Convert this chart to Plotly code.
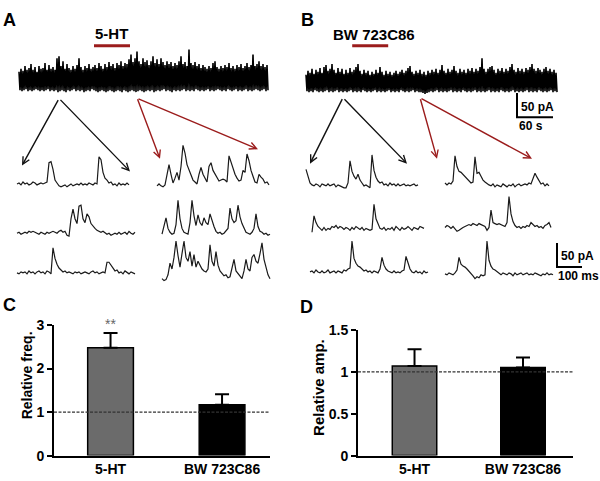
import plotly.graph_objects as go

W, H = 600, 481
FONT = "Liberation Sans, Arial, sans-serif"
RED = "#9b1c1c"

# ---------------- data ----------------
# long recordings: upper / lower envelope (pA) every 2 samples, sampled at DT_LONG s
DT_LONG = 5.0 / 3.0
LONG_A_UP = [38, 44, 40, 50, 42, 46, 54, 42, 48, 38, 50, 44, 46, 56, 42, 52, 44, 48, 42, 66,
             70, 50, 60, 44, 54, 46, 42, 50, 44, 52, 66, 48, 42, 50, 46, 54, 44, 48, 52, 46,
             56, 50, 44, 54, 48, 58, 50, 54, 46, 56, 52, 60, 50, 56, 54, 64, 74, 58, 66, 80,
             60, 54, 66, 58, 62, 52, 60, 70, 56, 64, 54, 66, 58, 52, 60, 54, 58, 50, 56, 52,
             60, 70, 54, 58, 50, 84, 56, 52, 58, 50, 54, 46, 52, 48, 44, 50, 46, 56, 60, 48,
             44, 50, 46, 52, 48, 56, 46, 50, 44, 52, 48, 54, 46, 50, 56, 48, 52, 74, 50, 54,
             60, 50, 54, 48, 52]
LONG_A_DN = [0, -2, 0, 2, -2, 0, -2, 0, 2, 0, -2, 0, -2, 0, 2, -2, 0, -2, 0, -4,
             -2, 0, -2, -4, 0, -2, 0, 2, -2, 0, -2, 0, -4, -2, 0, -2, 2, 0, -2, -4,
             -2, 0, -2, -4, -2, 0, -2, -4, -2, 0, -2, -4, 0, -2, -4, -2, 0, -2, -4, -2,
             0, -2, -4, -2, 0, -2, 0, -4, -2, 0, -2, 0, 2, -2, 0, -2, -4, 0, -2, 0,
             -2, 0, 2, -2, 0, -2, 0, -2, 2, 0, -2, 0, -2, 0, 2, -2, 0, -2, 0, 2,
             0, -2, 0, -2, 2, 0, -2, 0, 2, -2, 0, -2, 0, 2, -2, 0, -2, 0, 2, 0,
             -2, 0, 2, -2, 0]
LONG_B_UP = [34, 42, 38, 46, 36, 44, 40, 48, 38, 50, 54, 42, 46, 56, 44, 38, 48, 40, 46, 36,
             44, 38, 48, 40, 44, 50, 56, 42, 36, 44, 38, 42, 34, 40, 36, 44, 38, 50, 40, 34,
             42, 36, 40, 34, 38, 42, 36, 40, 44, 38, 42, 48, 52, 40, 36, 42, 38, 44, 36, 40,
             34, 42, 38, 44, 40, 46, 38, 44, 54, 42, 38, 46, 40, 44, 52, 42, 38, 46, 40, 44,
             38, 46, 42, 48, 40, 46, 42, 50, 68, 46, 40, 46, 50, 52, 44, 38, 46, 42, 48, 40,
             46, 42, 50, 56, 44, 40, 48, 42, 46, 40, 48, 44, 50, 56, 46, 42, 48, 44, 40, 46,
             50, 42, 46, 40, 44, 38]
LONG_B_DN = [0, -2, 0, -2, 2, 0, -2, 0, -2, 0, 2, -2, 0, -2, 0, 2, -2, 0, -2, 0,
             -2, 0, 2, -2, 0, -2, 0, -2, 2, 0, -2, 0, -2, 0, 2, -2, 0, -2, 0, -2,
             0, 2, -2, 0, -2, 0, -2, 2, 0, -2, 0, -2, 0, 2, -2, 0, -2, -2, -4, -6,
             -4, -2, 0, -2, 0, 2, -2, 0, -2, 0, -2, 0, 2, -2, 0, -2, 0, -2, 2, 0,
             -2, 0, -2, 0, 2, -2, 0, -2, 0, -2, 0, 2, -2, 0, -2, 0, -2, 2, 0, -2,
             0, -2, 0, 2, -2, 0, -2, 0, -2, 0, 2, -2, 0, -2, 0, -2, 2, 0, -2, 0,
             -2, 0, 2, -2, 0, -2]
DRUG_A = [125, 185]   # s, 5-HT application
DRUG_B = [77, 137]    # s, BW 723C86 application

# short sweeps (pA), sampled every DT_SHORT ms
DT_SHORT = 8
A_CTRL_1 = [0, 2, -2, 4, 0, 2, -2, 0, 4, 2, -2, 0, 2, 0, 2, 4, 44, 46, 30, 8, 2,
            -4, -6, -4, -2, -6, -2, 0, -4, -2, 0, -2, 2, -2, 0, -2, 2, 0, -2, 2, 0,
            56, 50, 24, 12, 8, 2, 4, -2, 0, -4, 2, -2, 0, -2, 2, -2]
A_CTRL_2 = [0, 2, -2, 0, 2, 0, 4, 2, 4, 2, 0, -2, 2, 0, -2, 2, 0, 2, 4, 2, 0, 4, 6,
            2, 4, -4, -6, 30, 50, 30, 20, 56, 58, 30, 22, 40, 34, 20, 14, 10, 6, 4,
            2, 4, 0, -2, 0, -4, -2, 0, -2, 2, -2, 0, 2, -2, 4, 0, -2, 2]
A_CTRL_3 = [0, -2, 2, 0, 2, -2, 4, 0, 2, -2, 2, 4, 0, 2, -2, 4, 2, -2, 52, 30, 18, 10,
            6, 2, 4, 0, 2, 0, -2, 2, 0, 2, -2, 0, 2, 0, -2, 2, 4, 0, 2, -2, 0, 2, 0,
            22, 22, 16, 10, 4, 6, 0, 2, -2, 4, 0, -2, 2, 0, -2]
A_HT_1 = [0, 4, 0, -2, 2, 20, 44, 24, 6, 16, 28, 12, 40, 84, 68, 44, 32, 20, 12, 8,
          4, 24, 38, 24, 14, 8, 40, 48, 32, 24, 16, 10, 12, 14, 12, 8, 62, 48, 34, 24,
          16, 10, 12, 32, 28, 66, 52, 32, 20, 8, 6, 24, 18, 14, 6, 8, 2]
A_HT_2 = [0, 16, 34, 12, 4, 0, 2, 20, 70, 32, 12, 4, 2, 0, 24, 70, 38, 18, 40, 24,
          18, 34, 24, 20, 42, 28, 16, 6, 2, 4, 0, 2, 6, 12, 54, 32, 24, 28, 60, 36,
          22, 12, 4, 2, 0, 4, 12, 42, 16, 6, 4, 0, 2, -2, 0]
A_HT_3 = [-4, -8, -6, 4, 28, 16, 40, 74, 44, 20, 48, 74, 40, 32, 52, 22, 46, 20, 32, 24,
          16, 12, 10, 16, 66, 32, 22, 52, 24, 12, 6, 2, 4, -2, 0, 16, 36, 12, 6, 0,
          -4, 12, 36, 16, 12, 40, 46, 32, 28, 48, 70, 36, 18, 4, -4]
B_CTRL_1 = [32, 16, 4, 0, -2, 2, 0, -4, 2, 0, -2, 2, -2, 0, 2, -4, 0, -2, -4, -6,
            -6, 4, 50, 28, 18, 12, 22, 10, 4, -2, 0, -4, -6, 62, 30, 16, 8, 4, 6, 0,
            2, -2, 4, 0, 2, -2, 2, -2, 0, 2, -2, 0, -2, 0, 2, -2, 0]
B_CTRL_2 = [-8, 26, 12, 4, 0, -4, 2, -4, 0, -2, 4, 2, 6, 0, 4, 2, -2, 2, 0, -4,
            2, -2, 4, 0, -2, 2, -4, 0, -2, -4, -2, 50, 20, 8, 0, -2, 2, -4, 0, -2,
            2, -4, 4, 0, -4, 2, -2, 0, 4, 0, -4, 2, 0, -2, 4, 2, 0]
B_CTRL_3 = [0, 2, -2, 4, 0, -2, 2, -2, 0, 4, -2, 0, 2, -2, 2, 0, -2, 4, 2, 6,
            8, 64, 28, 18, 12, 10, 6, 2, 4, 0, 2, -2, 2, 0, -2, 6, 30, 14, 6, 2,
            0, -2, 2, -2, 0, -2, 2, 4, 32, 16, 6, 0, -2, 2, -2, 0, -4, 2, -2, 0]
B_BW_1 = [4, 0, 4, 2, 8, 60, 38, 28, 26, 22, 18, 12, 8, 4, 6, 58, 24, 26, 18, 10,
          6, 2, 0, -2, 2, -4, 0, -2, -4, 2, -2, -4, 0, -2, 2, -4, 0, 2, -2, 0,
          2, 0, 4, 2, 12, 24, 16, 8, 2, 4, -2, 2, -2]
B_BW_2 = [0, 4, 2, -2, 2, -4, -8, -6, -2, 0, 2, 4, 6, 4, 8, 6, 4, 8, 6, 4,
          2, -6, 0, 36, 10, 8, 6, 8, 6, 4, 2, 10, 64, 28, 12, 4, 0, 2, -2, 2,
          0, 4, 2, 10, 6, 2, 4, 0, 2, -2, 4, 6, 10, 0]
B_BW_3 = [0, -2, 2, 0, -2, 2, 8, 34, 20, 16, 14, 10, 6, 2, -4, -10, -6, -8, -2, -4,
          -2, 68, 28, 16, 10, 8, 4, 2, -2, 2, 0, -2, 2, 0, -4, 2, -2, 0, 2, -2,
          0, 2, -2, 0, -2, 2, 0, -2, -4, 0, -2, 2, -2, 0, -2]

# scale bars
SCALE_LONG = (60, 50)     # s, pA
SCALE_SHORT = (100, 50)   # ms, pA

# bar charts
GROUPS = ["5-HT", "BW 723C86"]
FREQ_MEAN = [2.48, 1.17]
FREQ_SEM = [0.34, 0.24]
AMP_MEAN = [1.07, 1.05]
AMP_SEM = [0.20, 0.12]
BAR_COLORS = ["#6b6b6b", "#000000"]

# ---------------- layout helpers ----------------
fig = go.Figure()
layout = {}
_n = [2]  # axes 1,2 reserved for bar charts


def add_panel(x0, sx, xmin, xmax, y0, sy, ymin, ymax):
    i = _n[0] + 1
    _n[0] = i
    xd = [max(0, (x0 + xmin * sx) / W), min(1, (x0 + xmax * sx) / W)]
    yd = [max(0, 1 - (y0 - ymin * sy) / H), min(1, 1 - (y0 - ymax * sy) / H)]
    layout[f"xaxis{i}"] = dict(domain=xd, range=[xmin, xmax], visible=False,
                               anchor=f"y{i}", fixedrange=True)
    layout[f"yaxis{i}"] = dict(domain=yd, range=[ymin, ymax], visible=False,
                               anchor=f"x{i}", fixedrange=True)
    return f"x{i}", f"y{i}"


# long traces
def add_long(up, dn, x0, base):
    ys = [v for pair in zip(up, dn) for v in pair]
    ts = [k * DT_LONG for k in range(len(ys))]
    xa, ya = add_panel(x0, 0.6, -3, ts[-1] + 3, base, 0.5, -12, 92)
    fig.add_trace(go.Scatter(x=ts, y=ys, mode="lines", xaxis=xa, yaxis=ya,
                             line=dict(color="#000", width=1.6), hoverinfo="skip"))
    return xa, ya


xa_A, ya_A = add_long(LONG_A_UP, LONG_A_DN, 19, 85)
xa_B, ya_B = add_long(LONG_B_UP, LONG_B_DN, 306, 86)

shapes = []
for xa, drug in ((xa_A, DRUG_A), (xa_B, DRUG_B)):
    shapes.append(dict(type="line", xref=xa, yref="paper", x0=drug[0], x1=drug[1],
                       y0=1 - 39 / H, y1=1 - 39 / H, line=dict(color=RED, width=3)))

# short traces
SHORT = [(A_CTRL_1, 17, 182), (A_CTRL_2, 17, 233), (A_CTRL_3, 17, 274),
         (A_HT_1, 157, 184), (A_HT_2, 162, 234), (A_HT_3, 162, 278),
         (B_CTRL_1, 306, 183), (B_CTRL_2, 312, 228), (B_CTRL_3, 310, 273),
         (B_BW_1, 445, 183), (B_BW_2, 445, 227), (B_BW_3, 445, 275)]
for vals, x0, base in SHORT:
    t = [k * DT_SHORT for k in range(len(vals))]
    xa, ya = add_panel(x0, 0.25, -16, t[-1] + 16, base, 0.5, -30, 90)
    fig.add_trace(go.Scatter(x=t, y=vals, mode="lines", xaxis=xa, yaxis=ya,
                             line=dict(color="#1a1a1a", width=1.2), hoverinfo="skip"))

# scale bars
for (sxv, syv), x0, y0, sxp in ((SCALE_LONG, 517, 113, 0.6), (SCALE_SHORT, 557, 268, 0.25)):
    xa, ya = add_panel(x0, sxp, -sxv * 0.1, sxv * 1.1, y0, 0.5, -5, syv + 5)
    fig.add_trace(go.Scatter(x=[0, 0, sxv], y=[syv, 0, 0], mode="lines", xaxis=xa, yaxis=ya,
                             line=dict(color="#000", width=2), hoverinfo="skip"))

# ---------------- bar charts ----------------
def bar_trace(means, sems, xa, ya):
    return go.Bar(x=GROUPS, y=means, width=0.41, xaxis=xa, yaxis=ya,
                  marker=dict(color=BAR_COLORS, line=dict(color="#000", width=1.5)),
                  error_y=dict(type="data", symmetric=False, array=sems,
                               arrayminus=[0] * len(sems), color="#000",
                               thickness=2, width=7),
                  hoverinfo="skip")


fig.add_trace(bar_trace(FREQ_MEAN, FREQ_SEM, "x", "y"))
fig.add_trace(bar_trace(AMP_MEAN, AMP_SEM, "x2", "y2"))

tickfont = dict(family=FONT, size=14, color="#000", weight="bold")
common_x = dict(type="category", showline=True, linecolor="#000", linewidth=2,
                ticks="", showgrid=False, zeroline=False, tickfont=tickfont, fixedrange=True)
common_y = dict(showline=True, linecolor="#000", linewidth=2, ticks="outside",
                ticklen=5, tickwidth=2, tickcolor="#000", showgrid=False,
                zeroline=False, tickfont=tickfont, fixedrange=True)
layout["xaxis"] = dict(domain=[54 / W, 270 / W], range=[-0.507, 1.43], anchor="y", **common_x)
layout["yaxis"] = dict(domain=[1 - 463 / H, 1 - 328 / H], range=[0, 3], anchor="x",
                       tickvals=[0, 1, 2, 3], **common_y)
layout["xaxis2"] = dict(domain=[358 / W, 573 / W], range=[-0.521, 1.461], anchor="y2", **common_x)
layout["yaxis2"] = dict(domain=[1 - 463 / H, 1 - 333 / H], range=[0, 1.5], anchor="x2",
                        tickvals=[0, 0.5, 1, 1.5], ticktext=["0", "0.5", "1", "1.5"], **common_y)

for xa, ya in (("x", "y"), ("x2", "y2")):
    shapes.append(dict(type="line", xref=f"{xa} domain", yref=ya, x0=0, x1=1, y0=1, y1=1,
                       layer="above", line=dict(color="#333", width=1.2, dash="3px,1.5px")))

# ---------------- annotations ----------------
ann = []


def text(x, y, s, size=14, color="#000", weight="bold", angle=0):
    ann.append(dict(x=x / W, y=1 - y / H, xref="paper", yref="paper", text=s, showarrow=False,
                    textangle=angle, xanchor="center", yanchor="middle",
                    font=dict(family=FONT, size=size, color=color, weight=weight)))


text(9, 12, "A", 18)
text(307, 12, "B", 18)
text(9, 307, "C", 18)
text(306, 309, "D", 18)
text(111.5, 26, "5-HT", 15)
text(373.5, 27, "BW 723C86", 15)
text(537, 102, "50 pA", 12)
text(531, 122, "60 s", 12)
text(577, 257, "50 pA", 12)
text(578, 277, "100 ms", 12)
text(27, 380, "Relative freq.", 14, angle=-90)
text(319, 393, "Relative amp.", 15, angle=-90)

ann.append(dict(x=GROUPS[0], y=FREQ_MEAN[0] + FREQ_SEM[0], xref="x", yref="y", text="**",
                showarrow=False, yshift=9, font=dict(family=FONT, size=14, color="#666")))


def arrow(apex, head, color):
    ann.append(dict(x=head[0] / W, y=1 - head[1] / H, xref="paper", yref="paper", text="",
                    showarrow=True, ax=apex[0] - head[0], ay=apex[1] - head[1],
                    arrowhead=5, arrowsize=1.0, arrowwidth=1.4, arrowcolor=color, standoff=0))


arrow((59, 96), (22, 163), "#111")
arrow((59, 96), (130, 169), "#111")
arrow((137, 95), (160, 156), RED)
arrow((137, 95), (258, 146), RED)
arrow((343, 95), (310, 161), "#111")
arrow((343, 95), (407, 161), "#111")
arrow((420, 95), (437, 156), RED)
arrow((420, 95), (532, 156), RED)

fig.update_layout(width=W, height=H, autosize=False, margin=dict(l=0, r=0, t=0, b=0),
                  paper_bgcolor="white", plot_bgcolor="rgba(0,0,0,0)", showlegend=False,
                  font=dict(family=FONT), annotations=ann, shapes=shapes, bargap=0, **layout)

fig.write_html("out.html", config={"displayModeBar": False, "staticPlot": True},
               post_script="document.body.style.margin='0';document.body.style.overflow='hidden';")
